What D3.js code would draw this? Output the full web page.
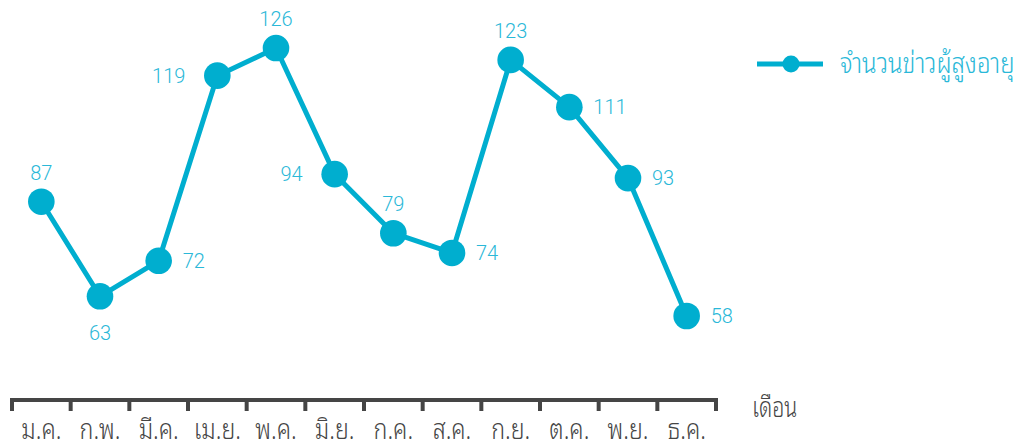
<!DOCTYPE html>
<html>
<head>
<meta charset="utf-8">
<script src="https://cdn.jsdelivr.net/npm/d3@7"></script>
<style>
  html, body { margin: 0; padding: 0; background: #fff; }
  svg { display: block; }
  text { font-family: Roboto, "Noto Sans Thai Looped", sans-serif; }
  .thai { font-family: "Noto Sans Thai Looped", Roboto, sans-serif; font-weight: 300; }
</style>
</head>
<body>
<svg id="chart" width="1027" height="440"></svg>
<script>
// Monthly count of news about the elderly
const months = ["ม.ค.", "ก.พ.", "มี.ค.", "เม.ย.", "พ.ค.", "มิ.ย.", "ก.ค.", "ส.ค.", "ก.ย.", "ต.ค.", "พ.ย.", "ธ.ค."];
const newsCounts = [87, 63, 72, 119, 126, 94, 79, 74, 123, 111, 93, 58];
const labelSide = ["top", "bottom", "right", "left", "top", "left", "top", "right", "top", "right", "right", "right"];
const seriesName = "จำนวนข่าวผู้สูงอายุ";
const axisTitle = "เดือน";

const lineColor = "#00aecf";
const labelColor = "#2ab8d8";
const axisColor = "#454545";

const svg = d3.select("#chart");

const x = d3.scaleBand().domain(months).range([12, 716]).padding(0);
const y = d3.scaleLinear().domain([50, 130]).range([347.5, 32.3]);

const cx = d => x(d.m) + x.bandwidth() / 2;
const data = months.map((m, i) => ({ m, v: newsCounts[i], side: labelSide[i] }));

// x axis: baseline with boundary ticks, month names centred in each band
const axisY = 400;
const axisG = svg.append("g").attr("transform", `translate(0,${axisY})`);
axisG.append("line")
  .attr("x1", 10).attr("x2", 718)
  .attr("stroke", axisColor).attr("stroke-width", 4);
const boundaries = months.map(m => x(m)).concat([x.range()[1]]);
axisG.selectAll("line.tick").data(boundaries).join("line")
  .attr("class", "tick")
  .attr("x1", d => d).attr("x2", d => d)
  .attr("y1", -2).attr("y2", 11)
  .attr("stroke", axisColor).attr("stroke-width", 4);
axisG.selectAll("text.lbl").data(months).join("text")
  .attr("class", "lbl thai")
  .attr("transform", d => `translate(${x(d) + x.bandwidth() / 2},39) scale(0.8,1)`)
  .attr("text-anchor", "middle")
  .attr("font-size", 29)
  .attr("fill", axisColor)
  .text(d => d);
svg.append("text")
  .attr("class", "thai")
  .attr("transform", `translate(752,417) scale(0.74,1)`)
  .attr("font-size", 29)
  .attr("fill", axisColor)
  .text(axisTitle);

// series line
const line = d3.line().x(cx).y(d => y(d.v));
svg.append("path")
  .datum(data)
  .attr("d", line)
  .attr("fill", "none")
  .attr("stroke", lineColor)
  .attr("stroke-width", 5)
  .attr("stroke-linejoin", "round");

svg.selectAll("circle.pt").data(data).join("circle")
  .attr("class", "pt")
  .attr("cx", cx)
  .attr("cy", d => y(d.v))
  .attr("r", 13.3)
  .attr("fill", lineColor);

// value labels
svg.selectAll("text.val").data(data).join("text")
  .attr("class", "val")
  .attr("x", d => d.side === "right" ? cx(d) + 24 : d.side === "left" ? cx(d) - 32 : cx(d))
  .attr("y", d => d.side === "top" ? y(d.v) - 22 : d.side === "bottom" ? y(d.v) + 44 : y(d.v) + 7)
  .attr("text-anchor", d => d.side === "right" ? "start" : d.side === "left" ? "end" : "middle")
  .attr("font-size", 20)
  .attr("font-weight", 300)
  .attr("fill", labelColor)
  .text(d => d.v);

// legend
const lg = svg.append("g").attr("transform", "translate(757,64)");
lg.append("line").attr("x1", 0).attr("x2", 66).attr("stroke", lineColor).attr("stroke-width", 5);
lg.append("circle").attr("cx", 34).attr("r", 8.5).attr("fill", lineColor);
lg.append("text")
  .attr("class", "thai")
  .attr("transform", "translate(83,9) scale(0.83,1)")
  .attr("font-size", 29)
  .attr("fill", labelColor)
  .text(seriesName);
</script>
</body>
</html>
